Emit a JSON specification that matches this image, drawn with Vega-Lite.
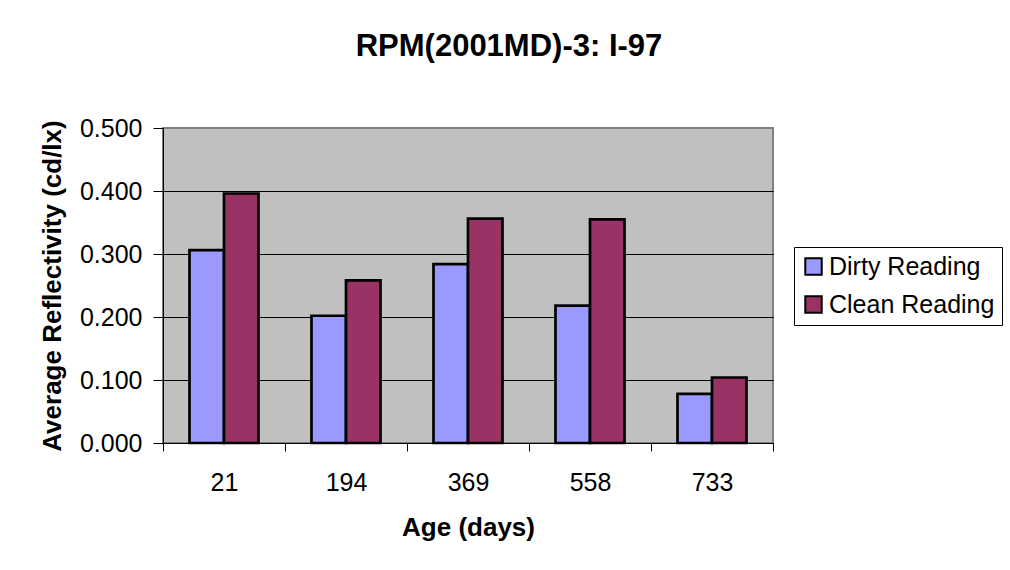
{
  "$schema": "https://vega.github.io/schema/vega-lite/v6.json",
  "autosize": {"type": "none"},
  "padding": {"left": 163, "top": 128, "right": 237, "bottom": 127},
  "width": 610,
  "height": 315,
  "background": "white",
  "title": {
    "text": "RPM(2001MD)-3: I-97",
    "font": "Liberation Sans",
    "fontSize": 31,
    "fontWeight": "bold",
    "color": "black",
    "anchor": "middle",
    "frame": "group",
    "dx": 41,
    "offset": 53
  },
  "data": {
    "values": [
      {"age": 21, "series": "Dirty Reading", "reflectivity": 0.306},
      {"age": 21, "series": "Clean Reading", "reflectivity": 0.396},
      {"age": 194, "series": "Dirty Reading", "reflectivity": 0.202},
      {"age": 194, "series": "Clean Reading", "reflectivity": 0.258},
      {"age": 369, "series": "Dirty Reading", "reflectivity": 0.284},
      {"age": 369, "series": "Clean Reading", "reflectivity": 0.356},
      {"age": 558, "series": "Dirty Reading", "reflectivity": 0.218},
      {"age": 558, "series": "Clean Reading", "reflectivity": 0.355},
      {"age": 733, "series": "Dirty Reading", "reflectivity": 0.078},
      {"age": 733, "series": "Clean Reading", "reflectivity": 0.104}
    ]
  },
  "mark": {"type": "bar", "stroke": "black", "strokeWidth": 2.7},
  "encoding": {
    "x": {
      "field": "age",
      "type": "ordinal",
      "title": "Age (days)",
      "scale": {"paddingInner": 0, "paddingOuter": 0},
      "axis": {
        "labelAngle": 0,
        "tickBand": "extent",
        "tickSize": 8,
        "labelPadding": 19,
        "titlePadding": 19,
        "grid": false
      }
    },
    "xOffset": {
      "field": "series",
      "type": "nominal",
      "sort": ["Dirty Reading", "Clean Reading"],
      "scale": {"paddingInner": 0, "paddingOuter": 0.768}
    },
    "y": {
      "field": "reflectivity",
      "type": "quantitative",
      "title": "Average Reflectivity (cd/lx)",
      "scale": {"domain": [0, 0.5], "nice": false, "zero": true},
      "axis": {
        "values": [0, 0.1, 0.2, 0.3, 0.4, 0.5],
        "format": ".3f",
        "tickSize": 10,
        "labelPadding": 11,
        "titlePadding": 14,
        "grid": true,
        "gridColor": {"condition": {"test": "datum.value >= 0.5", "value": "#808080"}, "value": "#000000"}
      }
    },
    "color": {
      "field": "series",
      "type": "nominal",
      "sort": ["Dirty Reading", "Clean Reading"],
      "scale": {"domain": ["Dirty Reading", "Clean Reading"], "range": ["#9999FF", "#993366"]},
      "legend": {
        "title": null,
        "orient": "none",
        "legendX": 631,
        "legendY": 119,
        "symbolType": "square",
        "symbolSize": 270,
        "symbolStrokeColor": "black",
        "symbolStrokeWidth": 2,
        "symbolOpacity": 1,
        "labelFont": "Liberation Sans",
        "labelFontSize": 25,
        "labelColor": "black",
        "labelOffset": 3,
        "labelLimit": 300,
        "rowPadding": 12,
        "padding": 7,
        "strokeColor": "black",
        "fillColor": "white"
      }
    }
  },
  "config": {
    "view": {"fill": "#C0C0C0", "stroke": "#808080", "strokeWidth": 2},
    "axis": {
      "labelFont": "Liberation Sans",
      "labelFontSize": 25,
      "labelColor": "black",
      "titleFont": "Liberation Sans",
      "titleFontSize": 26,
      "titleFontWeight": "bold",
      "titleColor": "black",
      "domainColor": "black",
      "tickColor": "black"
    }
  }
}
